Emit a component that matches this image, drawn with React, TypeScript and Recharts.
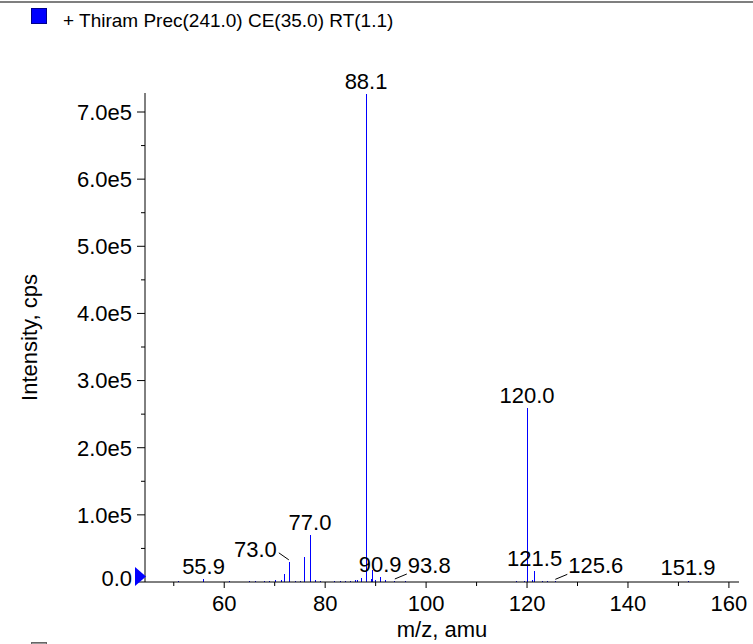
import React from 'react'
import { ComposedChart, XAxis, YAxis, Scatter, ReferenceLine } from 'recharts'

// stick spectrum (m/z, intensity in cps)
const peakMz = [
  50.9, 53.0, 55.9, 57.1, 58.9, 61.1, 63.0, 65.0, 66.1, 67.9, 69.0, 70.1, 71.3, 72.0, 73.0, 74.1, 75.2, 76.0,
  77.0, 78.1, 79.0, 81.9, 83.1, 84.1, 85.1, 86.0, 86.5, 87.1, 88.1, 89.1, 89.4, 89.9, 90.9, 92.0, 93.8, 96.0,
  99.0, 104.0, 110.0, 117.9, 119.5, 120.0, 121.0, 121.5, 123.0, 124.0, 125.6, 130.8, 151.9,
]
const peakIntensity = [
  800, 600, 4000, 700, 600, 1500, 700, 900, 1200, 1000, 1500, 2500, 3000, 12000, 30000, 2000, 1500, 37000,
  70000, 2500, 1000, 1200, 1000, 1500, 1800, 3000, 3500, 6000, 727000, 4000, 18000, 3000, 7000, 2500, 1500, 800,
  600, 600, 500, 800, 1500, 259000, 2500, 16000, 1500, 1200, 1000, 500, 900,
]

const labelMz = [55.9, 73.0, 77.0, 88.1, 90.9, 93.8, 120.0, 121.5, 125.6, 151.9]
const labelText = ['55.9', '73.0', '77.0', '88.1', '90.9', '93.8', '120.0', '121.5', '125.6', '151.9']
const leftLabels = ['73.0']
const rightLabels = ['93.8', '125.6']

const xTicks = [50, 60, 70, 80, 90, 100, 110, 120, 130, 140, 150, 160]
const xMajor = [60, 80, 100, 120, 140, 160]
const yTicks = [0, 50000, 100000, 150000, 200000, 250000, 300000, 350000, 400000, 450000, 500000, 550000, 600000, 650000, 700000]

const FONT = '"Liberation Sans", Arial, Helvetica, sans-serif'
const BLUE = '#0000ff'

const labelData = labelMz.map((mz, i) => ({
  mz,
  intensity: peakIntensity[peakMz.indexOf(mz)],
  text: labelText[i],
}))

function fmtY(v: number) {
  if (v === 0) return '0.0'
  return (v / 100000).toFixed(1) + 'e5'
}

function YTick(props: any) {
  const { x, y, payload } = props
  const v = payload.value as number
  const major = v % 100000 === 0
  return (
    <g>
      <line x1={x - (major ? 8 : 4)} x2={x} y1={y} y2={y} stroke="#000" />
      {major && (
        <text x={x - 13} y={v === 0 ? y - 4 : y} dy="0.36em" textAnchor="end" fontSize={22} fontFamily={FONT} fill="#000">
          {fmtY(v)}
        </text>
      )}
      {v === 0 && (
        <polygon points={`${x - 10},${y - 15} ${x - 10},${y + 4} ${x + 1},${y - 5.5}`} fill={BLUE} />
      )}
    </g>
  )
}

function XTick(props: any) {
  const { x, y, payload } = props
  const v = payload.value as number
  const major = xMajor.includes(v)
  return (
    <g>
      <line x1={x} x2={x} y1={y} y2={y + (major ? 6 : 4)} stroke="#000" />
      {major && (
        <text x={x} y={y + 29} textAnchor="middle" fontSize={22} fontFamily={FONT} fill="#000">
          {v}
        </text>
      )}
    </g>
  )
}

function PeakLabel(props: any) {
  const { cx, cy, payload } = props
  const t = payload.text as string
  if (leftLabels.includes(t)) {
    return (
      <g>
        <line x1={cx - 1} y1={cy - 2} x2={cx - 11} y2={cy - 9} stroke="#000" />
        <text x={cx - 13} y={cy - 5} textAnchor="end" fontSize={22} fontFamily={FONT} fill="#000">{t}</text>
      </g>
    )
  }
  if (rightLabels.includes(t)) {
    return (
      <g>
        <line x1={cx} y1={cy - 2} x2={cx + 12} y2={cy - 7} stroke="#000" />
        <text x={cx + 13} y={cy - 8} textAnchor="start" fontSize={22} fontFamily={FONT} fill="#000">{t}</text>
      </g>
    )
  }
  return (
    <text x={cx} y={Math.min(cy - 5, 575)} textAnchor="middle" fontSize={22} fontFamily={FONT} fill="#000">
      {t}
    </text>
  )
}

export default function App() {
  return (
    <div style={{ position: 'fixed', left: 0, top: 0, width: 753, height: 644, background: '#fff', overflow: 'hidden' }}>
      <ComposedChart width={753} height={644} margin={{ top: 93, right: 14, bottom: 0, left: 0 }}>
        <XAxis
          dataKey="mz"
          type="number"
          domain={[44.3, 162]}
          ticks={xTicks}
          interval={0}
          height={62}
          tickSize={0}
          tickMargin={0}
          tickLine={false}
          tick={<XTick />}
          axisLine={{ stroke: '#000' }}
          label={(p: any) => {
            const vb = p.viewBox
            return (
              <text x={vb.x + vb.width / 2} y={vb.y + 55} textAnchor="middle" fontSize={22} fontFamily={FONT} fill="#000">
                m/z, amu
              </text>
            )
          }}
        />
        <YAxis
          type="number"
          domain={[0, 728300]}
          ticks={yTicks}
          interval={0}
          width={145}
          tickSize={0}
          tickMargin={0}
          tickLine={false}
          tick={<YTick />}
          axisLine={{ stroke: '#000' }}
          label={(p: any) => {
            const vb = p.viewBox
            const cx = 29
            const cy = vb.y + vb.height / 2
            return (
              <text x={cx} y={cy} transform={`rotate(-90 ${cx} ${cy})`} textAnchor="middle" dy="0.36em" fontSize={22} fontFamily={FONT} fill="#000">
                Intensity, cps
              </text>
            )
          }}
        />
        {peakMz.map((mz, i) => (
          <ReferenceLine
            key={mz}
            segment={[{ x: mz, y: 0 }, { x: mz, y: peakIntensity[i] }]}
            stroke={BLUE}
            strokeWidth={1}
            shapeRendering="crispEdges"
          />
        ))}
        <Scatter data={labelData} dataKey="intensity" shape={<PeakLabel />} isAnimationActive={false} />
      </ComposedChart>
      <svg width={753} height={644} style={{ position: 'absolute', left: 0, top: 0, pointerEvents: 'none' }}>
        <line x1={0} x2={753} y1={2} y2={2} stroke="#555" strokeWidth={1.5} />
        <rect x={31.5} y={8.5} width={15} height={15} fill={BLUE} stroke="#00008a" />
        <text x={63} y={27} fontSize={19} fontFamily={FONT} fill="#000">+ Thiram Prec(241.0) CE(35.0) RT(1.1)</text>
        <rect x={31.5} y={642.5} width={15} height={15} fill="#999" stroke="#666" />
      </svg>
    </div>
  )
}
